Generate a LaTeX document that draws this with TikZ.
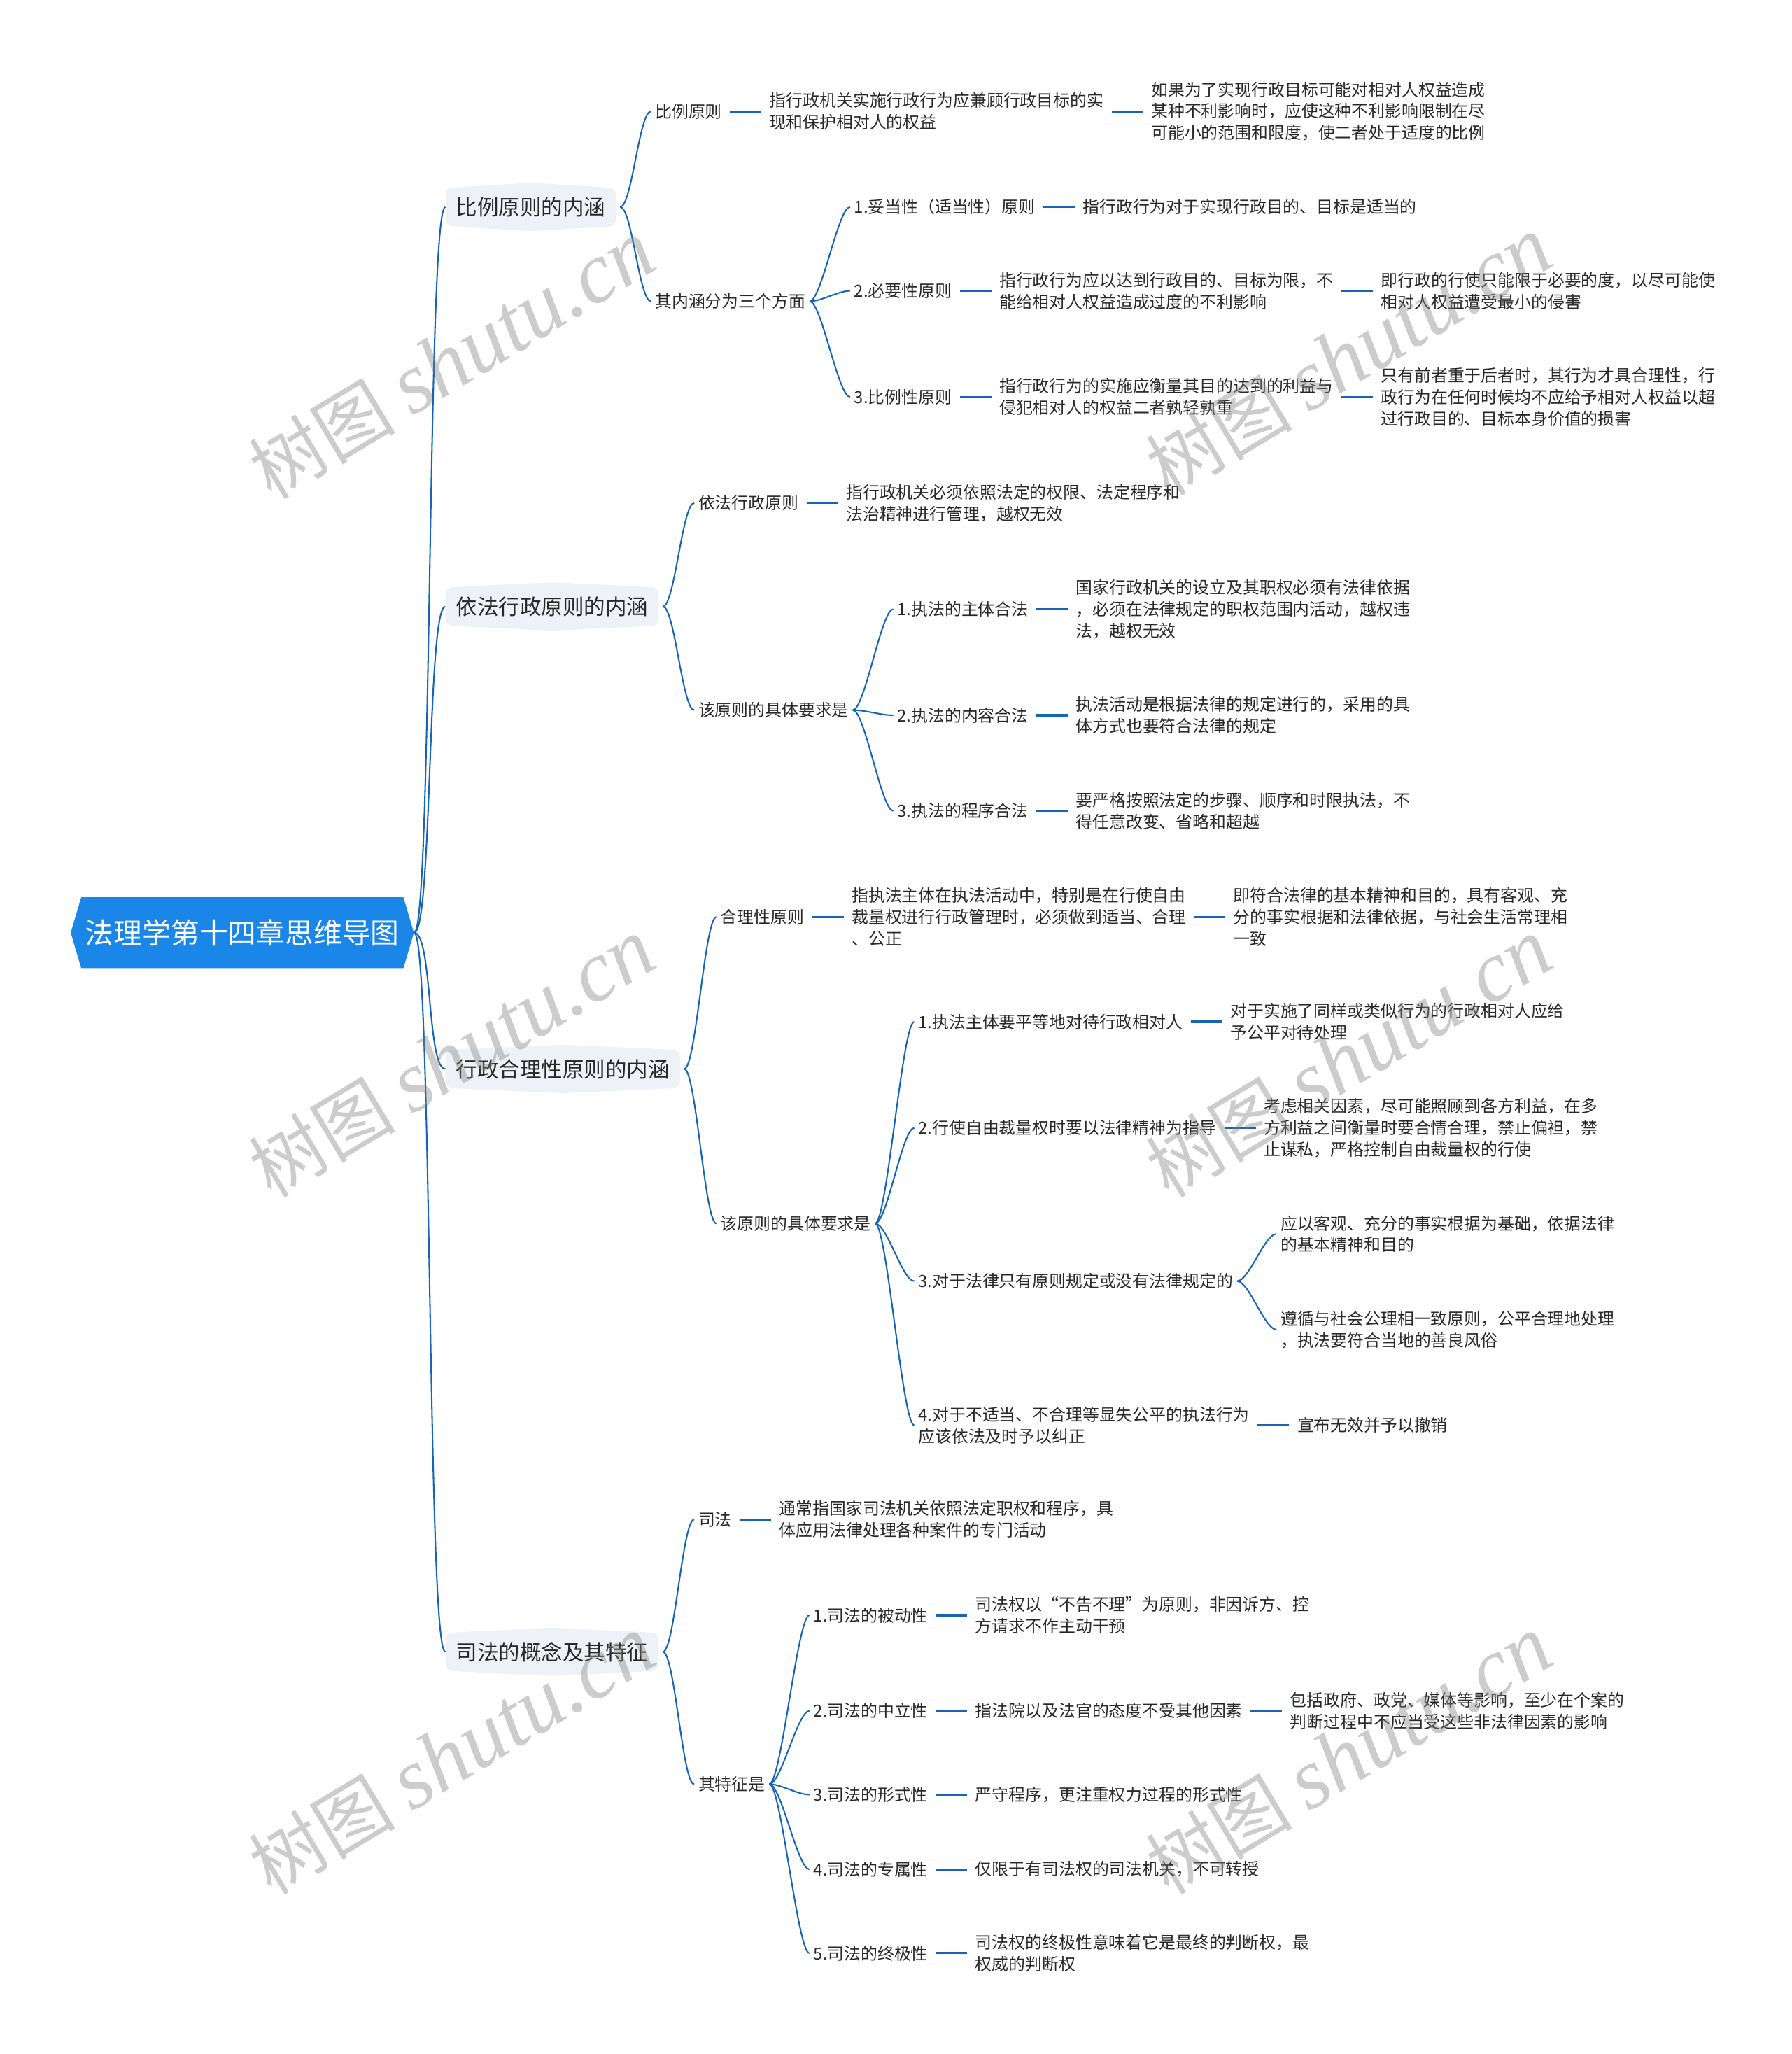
\documentclass[tikz,border=0pt]{standalone}
\usepackage{fontspec}
\setmainfont{Noto Sans CJK SC}
\newfontfamily\markfont{Liberation Serif}
\usetikzlibrary{positioning}
\definecolor{rootblue}{RGB}{26,134,232}
\definecolor{capfill}{RGB}{238,242,246}
\definecolor{linkblue}{RGB}{22,101,180}
\definecolor{inkgray}{RGB}{40,40,40}
\newcommand\leaffont{\fontsize{12.75}{16.5}\selectfont}
\begin{document}
\begin{tikzpicture}[x=1pt, y=-1pt,
    root/.style={minimum width=262pt, minimum height=54pt, inner sep=0pt, text=white,
      font=\fontsize{21.8}{26}\selectfont,
      path picture={\fill[rootblue] (path picture bounding box.west)
        -- ([xshift=8pt]path picture bounding box.north west) -- ([xshift=-8pt]path picture bounding box.north east)
        -- (path picture bounding box.east)
        -- ([xshift=-8pt]path picture bounding box.south east) -- ([xshift=8pt]path picture bounding box.south west) -- cycle;}},
    topic/.style={anchor=west, inner xsep=8pt, inner ysep=0pt, minimum height=37pt, text=inkgray,
      font=\fontsize{16.3}{20}\selectfont,
      path picture={\fill[capfill, rounded corners=5pt] ([yshift=-4pt]path picture bounding box.north west)
        -- (path picture bounding box.north) -- ([yshift=-4pt]path picture bounding box.north east)
        -- ([yshift=4pt]path picture bounding box.south east) -- (path picture bounding box.south)
        -- ([yshift=4pt]path picture bounding box.south west) -- cycle;}},
    twig/.style={anchor=west, inner sep=0pt, text=inkgray, font=\leaffont, align=left},
    leaf/.style={twig, right=36pt of #1},
    branch/.style={draw=linkblue, line width=1.1pt},
    stub/.style={draw=linkblue, line width=1.7pt, shorten <=6pt, shorten >=6pt},
    watermark/.style={rotate=31, text=gray, opacity=0.4, font=\fontsize{56}{56}\selectfont}]
  \useasboundingbox (0,0) rectangle (1368,1568);

  \node[root] (root) at (185,712) {法理学第十四章思维导图};

  \node[topic] (pA) at (340,158) {比例原则的内涵};
  \node[topic] (pB) at (340,463) {依法行政原则的内涵};
  \node[topic] (pC) at (340,816) {行政合理性原则的内涵};
  \node[topic] (pD) at (340,1261) {司法的概念及其特征};

  \foreach \p in {pA,pB,pC,pD}
    \draw[branch] (root.east) .. controls +(14,0) and +(-14,0) .. (\p.west);

  % 比例原则的内涵
  \node[twig] (a1) at (500,85) {比例原则};
  \node[leaf=a1] (a1d) {指行政机关实施行政行为应兼顾行政目标的实\\现和保护相对人的权益};
  \node[leaf=a1d] (a1e) {如果为了实现行政目标可能对相对人权益造成\\某种不利影响时，应使这种不利影响限制在尽\\可能小的范围和限度，使二者处于适度的比例};
  \node[twig] (a2) at (500,230) {其内涵分为三个方面};
  \node[twig] (a21) at (652,158) {1.妥当性（适当性）原则};
  \node[leaf=a21] (a21d) {指行政行为对于实现行政目的、目标是适当的};
  \node[twig] (a22) at (652,222) {2.必要性原则};
  \node[leaf=a22] (a22d) {指行政行为应以达到行政目的、目标为限，不\\能给相对人权益造成过度的不利影响};
  \node[leaf=a22d] (a22e) {即行政的行使只能限于必要的度，以尽可能使\\相对人权益遭受最小的侵害};
  \node[twig] (a23) at (652,303) {3.比例性原则};
  \node[leaf=a23] (a23d) {指行政行为的实施应衡量其目的达到的利益与\\侵犯相对人的权益二者孰轻孰重};
  \node[leaf=a23d] (a23e) {只有前者重于后者时，其行为才具合理性，行\\政行为在任何时候均不应给予相对人权益以超\\过行政目的、目标本身价值的损害};

  % 依法行政原则的内涵
  \node[twig] (b1) at (533,384) {依法行政原则};
  \node[leaf=b1] (b1d) {指行政机关必须依照法定的权限、法定程序和\\法治精神进行管理，越权无效};
  \node[twig] (b2) at (533,542) {该原则的具体要求是};
  \node[twig] (b21) at (685,465) {1.执法的主体合法};
  \node[leaf=b21] (b21d) {国家行政机关的设立及其职权必须有法律依据\\，必须在法律规定的职权范围内活动，越权违\\法，越权无效};
  \node[twig] (b22) at (685,546) {2.执法的内容合法};
  \node[leaf=b22] (b22d) {执法活动是根据法律的规定进行的，采用的具\\体方式也要符合法律的规定};
  \node[twig] (b23) at (685,619) {3.执法的程序合法};
  \node[leaf=b23] (b23d) {要严格按照法定的步骤、顺序和时限执法，不\\得任意改变、省略和超越};

  % 行政合理性原则的内涵
  \node[twig] (c1) at (550,700) {合理性原则};
  \node[leaf=c1] (c1d) {指执法主体在执法活动中，特别是在行使自由\\裁量权进行行政管理时，必须做到适当、合理\\、公正};
  \node[leaf=c1d] (c1e) {即符合法律的基本精神和目的，具有客观、充\\分的事实根据和法律依据，与社会生活常理相\\一致};
  \node[twig] (c2) at (550,934) {该原则的具体要求是};
  \node[twig] (c21) at (701,780) {1.执法主体要平等地对待行政相对人};
  \node[leaf=c21] (c21d) {对于实施了同样或类似行为的行政相对人应给\\予公平对待处理};
  \node[twig] (c22) at (701,861) {2.行使自由裁量权时要以法律精神为指导};
  \node[leaf=c22] (c22d) {考虑相关因素，尽可能照顾到各方利益，在多\\方利益之间衡量时要合情合理，禁止偏袒，禁\\止谋私，严格控制自由裁量权的行使};
  \node[twig] (c23) at (701,978) {3.对于法律只有原则规定或没有法律规定的};
  \node[twig] (c23a) at ([shift={(36,-36)}]c23.east) {应以客观、充分的事实根据为基础，依据法律\\的基本精神和目的};
  \node[twig] (c23b) at ([shift={(36,37)}]c23.east) {遵循与社会公理相一致原则，公平合理地处理\\，执法要符合当地的善良风俗};
  \node[twig] (c24) at (701,1088) {4.对于不适当、不合理等显失公平的执法行为\\应该依法及时予以纠正};
  \node[leaf=c24] (c24d) {宣布无效并予以撤销};

  % 司法的概念及其特征
  \node[twig] (d1) at (533,1160) {司法};
  \node[leaf=d1] (d1d) {通常指国家司法机关依照法定职权和程序，具\\体应用法律处理各种案件的专门活动};
  \node[twig] (d2) at (533,1362) {其特征是};
  \node[twig] (d21) at (621,1233) {1.司法的被动性};
  \node[leaf=d21] (d21d) {司法权以“不告不理”为原则，非因诉方、控\\方请求不作主动干预};
  \node[twig] (d22) at (621,1306) {2.司法的中立性};
  \node[leaf=d22] (d22d) {指法院以及法官的态度不受其他因素};
  \node[leaf=d22d] (d22e) {包括政府、政党、媒体等影响，至少在个案的\\判断过程中不应当受这些非法律因素的影响};
  \node[twig] (d23) at (621,1370) {3.司法的形式性};
  \node[leaf=d23] (d23d) {严守程序，更注重权力过程的形式性};
  \node[twig] (d24) at (621,1427) {4.司法的专属性};
  \node[leaf=d24] (d24d) {仅限于有司法权的司法机关，不可转授};
  \node[twig] (d25) at (621,1491) {5.司法的终极性};
  \node[leaf=d25] (d25d) {司法权的终极性意味着它是最终的判断权，最\\权威的判断权};

  \foreach \p/\c in {pA/a1,pA/a2,a2/a21,a2/a22,a2/a23,pB/b1,pB/b2,b2/b21,b2/b22,b2/b23,
      pC/c1,pC/c2,c2/c21,c2/c22,c2/c23,c2/c24,c23/c23a,c23/c23b,pD/d1,pD/d2,d2/d21,d2/d22,d2/d23,d2/d24,d2/d25}
    \draw[branch, shorten <=3pt, shorten >=3pt] (\p.east) .. controls +(12,0) and +(-12,0) .. (\c.west);

  \foreach \a/\b in {a1/a1d,a1d/a1e,a21/a21d,a22/a22d,a22d/a22e,a23/a23d,a23d/a23e,b1/b1d,b21/b21d,b22/b22d,b23/b23d,
      c1/c1d,c1d/c1e,c21/c21d,c22/c22d,c24/c24d,d1/d1d,d21/d21d,d22/d22d,d22d/d22e,d23/d23d,d24/d24d,d25/d25d}
    \draw[stub] (\a.east) -- (\b.west);

  \foreach \x/\y in {345/275,345/808,345/1340,1030/272,1030/808,1030/1340}
    \node[watermark] at (\x,\y) {树图 {\markfont\itshape\fontsize{66}{66}\selectfont shutu.cn}};
\end{tikzpicture}
\end{document}
